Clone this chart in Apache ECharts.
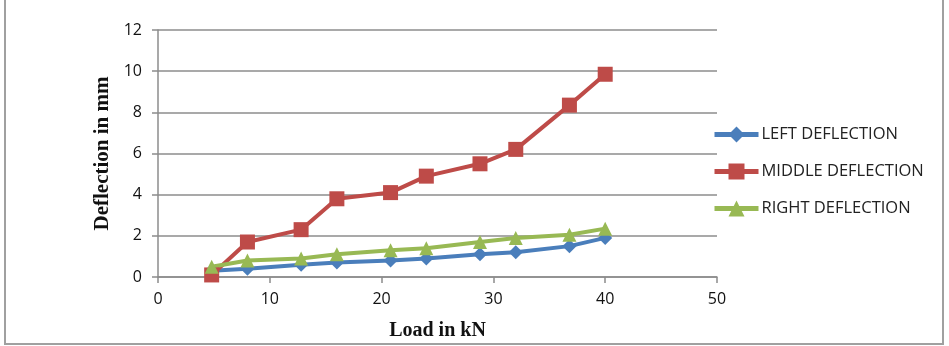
<!DOCTYPE html>
<html>
<head>
<meta charset="utf-8">
<script src="https://cdn.jsdelivr.net/npm/echarts@6/dist/echarts.min.js"></script>
<style>
  html, body { margin: 0; padding: 0; background: #fff; }
  #chart { width: 949px; height: 346px; }
</style>
</head>
<body>
<div id="chart"></div>
<script>
// load steps (kN)
const loads = [4.8, 8, 12.8, 16, 20.8, 24, 28.8, 32, 36.8, 40];
// deflections (mm)
const leftDeflection = [0.3, 0.4, 0.6, 0.7, 0.8, 0.9, 1.1, 1.2, 1.5, 1.9];
const middleDeflection = [0.1, 1.7, 2.3, 3.8, 4.1, 4.9, 5.5, 6.2, 8.35, 9.85];
const rightDeflection = [0.5, 0.8, 0.9, 1.1, 1.3, 1.4, 1.7, 1.9, 2.05, 2.35];
const seriesNames = ['LEFT DEFLECTION', 'MIDDLE DEFLECTION', 'RIGHT DEFLECTION'];

const pair = arr => loads.map((x, i) => [x, arr[i]]);

const chart = echarts.init(document.getElementById('chart'));

const lineSeries = (name, data, color, symbol, size) => ({
  name: name,
  type: 'line',
  data: pair(data),
  symbol: symbol,
  symbolSize: size,
  showSymbol: true,
  lineStyle: { color: color, width: 4 },
  itemStyle: { color: color },
  emphasis: { disabled: true },
  animation: false
});

chart.setOption({
  backgroundColor: '#fff',
  textStyle: { fontFamily: 'Open Sans' },
  grid: { left: 158, right: 232, top: 30, bottom: 68 },
  graphic: [{
    type: 'rect',
    shape: { x: 5, y: -3, width: 938, height: 347 },
    style: { fill: 'none', stroke: '#a0a0a0', lineWidth: 2 },
    silent: true
  }],
  legend: {
    orient: 'vertical',
    left: 707,
    top: 121,
    itemGap: 20,
    itemWidth: 44,
    itemHeight: 20,
    lineStyle: { width: 5 },
    textStyle: { fontSize: 16.5, color: '#222', fontFamily: 'Open Sans', padding: [0, 0, 0, -2] },
    data: seriesNames
  },
  xAxis: {
    type: 'value',
    min: 0, max: 50, interval: 10,
    name: 'Load in kN',
    nameLocation: 'middle',
    nameGap: 44,
    nameTextStyle: { fontFamily: 'Liberation Serif', fontWeight: 'bold', fontSize: 20, color: '#111' },
    axisLine: { show: true, lineStyle: { color: '#8c8c8c', width: 1.5 } },
    axisTick: { show: true, length: 6, lineStyle: { color: '#8c8c8c', width: 1.5 } },
    axisLabel: { fontSize: 16, color: '#111', margin: 14 },
    splitLine: { show: false }
  },
  yAxis: {
    type: 'value',
    min: 0, max: 12, interval: 2,
    name: 'Deflection in mm',
    nameLocation: 'middle',
    nameGap: 45,
    nameTextStyle: { fontFamily: 'Liberation Serif', fontWeight: 'bold', fontSize: 21, color: '#111' },
    axisLine: { show: true, lineStyle: { color: '#8c8c8c', width: 1.5 } },
    axisTick: { show: true, length: 6, lineStyle: { color: '#8c8c8c', width: 1.5 } },
    axisLabel: { fontSize: 16, color: '#111', margin: 16 },
    splitLine: { show: true, lineStyle: { color: '#8c8c8c', width: 1.5 } }
  },
  series: [
    lineSeries(seriesNames[0], leftDeflection, '#4a7ebb', 'diamond', 14),
    lineSeries(seriesNames[1], middleDeflection, '#be4b48', 'rect', 15),
    lineSeries(seriesNames[2], rightDeflection, '#98b954', 'triangle', 14)
  ]
});
</script>
</body>
</html>
